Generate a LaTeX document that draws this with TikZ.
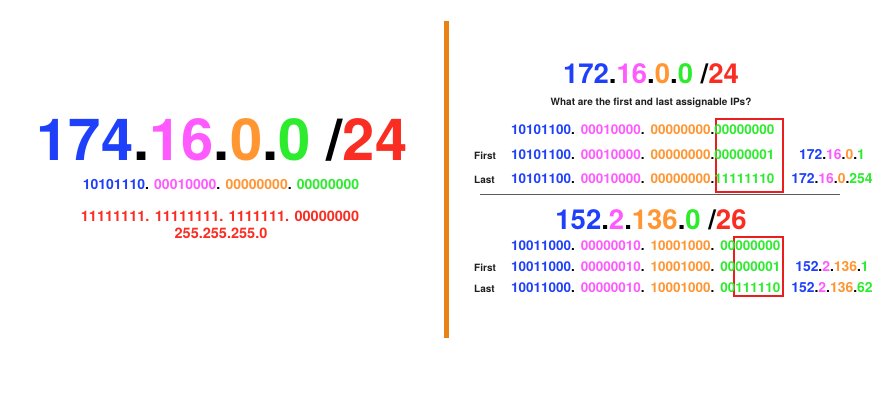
\documentclass[tikz,border=0pt]{standalone}
\usepackage{fontspec}
\setmainfont{TeX Gyre Heros}
\usetikzlibrary{backgrounds}
\definecolor{cb}{RGB}{30,64,250}
\definecolor{cm}{RGB}{255,90,255}
\definecolor{co}{RGB}{255,150,50}
\definecolor{cg}{RGB}{45,235,45}
\definecolor{cr}{RGB}{250,45,35}
\definecolor{cbar}{RGB}{232,130,20}
\definecolor{boxred}{RGB}{235,30,30}
\definecolor{rulegray}{RGB}{90,90,90}
\definecolor{qtext}{RGB}{30,30,30}
\newcommand{\cB}[1]{\textcolor{cb}{#1}}
\newcommand{\cM}[1]{\textcolor{cm}{#1}}
\newcommand{\cO}[1]{\textcolor{co}{#1}}
\newcommand{\cG}[1]{\textcolor{cg}{#1}}
\newcommand{\cR}[1]{\textcolor{cr}{#1}}
\newcommand{\octsep}{.\hspace{6pt}}
\begin{document}
\begin{tikzpicture}[x=1pt,y=-1pt,
  txt/.style={inner sep=0pt, outer sep=0pt, font=\bfseries\fontsize{13.9}{16}\selectfont},
  bin/.style={txt, anchor=base west, font=\bfseries\fontsize{13.5}{16}\selectfont},
  hbits/.style={bin, text=cg},
  ipaddr/.style={txt, anchor=base},
  lab/.style={inner sep=0pt, anchor=base west, font=\bfseries\fontsize{10}{12}\selectfont, text=qtext},
  bigtitle/.style={inner sep=0pt, anchor=base, font=\bfseries\fontsize{58}{60}\selectfont},
  subtitle/.style={inner sep=0pt, anchor=base, font=\bfseries\fontsize{27.5}{30}\selectfont},
  redbox/.style={draw=boxred, line width=1.2pt},
]
\useasboundingbox (0,0) rectangle (890,413);

% ---------- left panel ----------
\node[bigtitle] (lt) at (222,160) {\cB{174}.\cM{16}.\cO{0}.\cG{0} /\cR{24}};
\node[txt, anchor=base, font=\bfseries\fontsize{14}{16}\selectfont] (lbin) at (221,189)
  {\cB{10101110}. \cM{00010000}. \cO{00000000}. \cG{00000000}};
\node[txt, anchor=base, font=\bfseries\fontsize{14.5}{16}\selectfont, text=cr] (lmask) at (220,221)
  {11111111. 11111111. 1111111. 00000000};
\node[txt, anchor=base, font=\bfseries\fontsize{14.5}{16}\selectfont, text=cr] (ldec) at (221,238)
  {255.255.255.0};

% ---------- right panel, section 1 ----------
\node[subtitle] (rt1) at (651,83) {\cB{172}.\cM{16}.\cO{0}.\cG{0} /\cR{24}};
\node[inner sep=0pt, anchor=base, font=\bfseries\fontsize{10}{12}\selectfont, text=qtext] (q) at (651,105)
  {What are the first and last assignable IPs?};

\node[bin] (a1) at (511,134) {\cB{10101100}\octsep\cM{00010000}\octsep\cO{00000000}\octsep};
\node[hbits] (a1h) at (a1.base east) {00000000};
\node[bin] (a2) at (511,159) {\cB{10101100}\octsep\cM{00010000}\octsep\cO{00000000}\octsep};
\node[hbits] (a2h) at (a2.base east) {00000001};
\node[bin] (a3) at (511,183) {\cB{10101100}\octsep\cM{00010000}\octsep\cO{00000000}\octsep};
\node[hbits] (a3h) at (a3.base east) {11111110};

\node[lab] (f1) at (474,159) {First};
\node[lab] (l1) at (474,183) {Last};

\node[ipaddr] (ip1) at (832,159) {\cB{172}.\cM{16}.\cO{0}.\cG{1}};
\node[ipaddr] (ip2) at (832,183) {\cB{172}.\cM{16}.\cO{0}.\cG{254}};

% ---------- right panel, section 2 ----------
\node[subtitle] (rt2) at (651,229) {\cB{152}.\cM{2}.\cO{136}.\cG{0} /\cR{26}};

\node[bin] (b1) at (511,250) {\cB{10011000}\octsep\cM{00000010}\octsep\cO{10001000}\octsep\cG{00}};
\node[hbits] (b1h) at (b1.base east) {000000};
\node[bin] (b2) at (511,271) {\cB{10011000}\octsep\cM{00000010}\octsep\cO{10001000}\octsep\cG{00}};
\node[hbits] (b2h) at (b2.base east) {000001};
\node[bin] (b3) at (511,292) {\cB{10011000}\octsep\cM{00000010}\octsep\cO{10001000}\octsep\cG{00}};
\node[hbits] (b3h) at (b3.base east) {111110};

\node[lab] (f2) at (474,271) {First};
\node[lab] (l2) at (474,292) {Last};

\node[ipaddr] (ip3) at (832,271) {\cB{152}.\cM{2}.\cO{136}.\cG{1}};
\node[ipaddr] (ip4) at (832,292) {\cB{152}.\cM{2}.\cO{136}.\cG{62}};

\coordinate (bx1a) at (716,119);
\coordinate (bx1b) at (783,192);
\coordinate (bx2a) at (734,237);
\coordinate (bx2b) at (783,296);
\coordinate (hrl) at (480,194);
\coordinate (hrr) at (840,194);

\begin{scope}[on background layer]
  \fill[white] (0,0) rectangle (890,413);
  \fill[cbar] (444,21) rectangle (449,338);
  \draw[rulegray, line width=1pt] (hrl) -- (hrr);
  \draw[redbox] (bx1a) rectangle (bx1b);
  \draw[redbox] (bx2a) rectangle (bx2b);
\end{scope}
\end{tikzpicture}
\end{document}
